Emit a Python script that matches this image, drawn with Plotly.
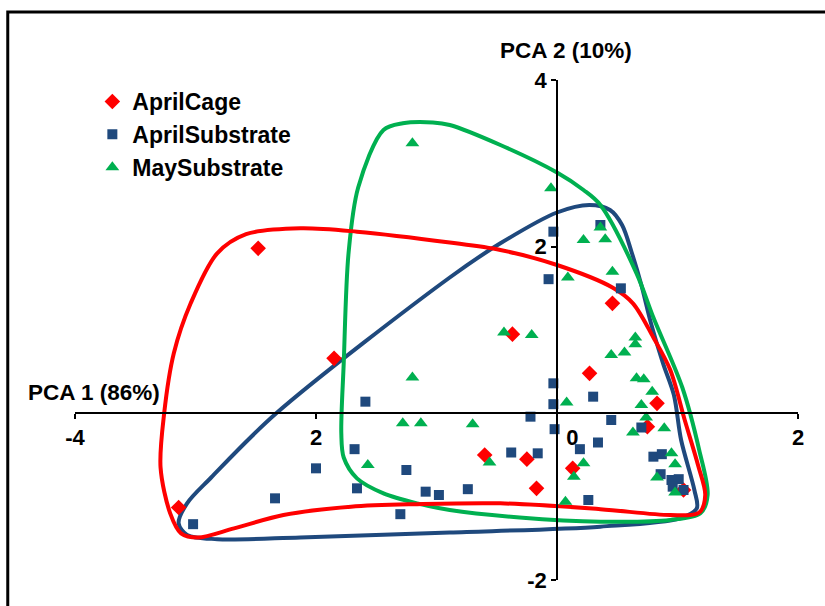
import plotly.graph_objects as go

# ---------------- data (PCA scores) ----------------
cage_x = [-2.48, -1.85, -3.14, -0.37, 0.46, 0.27, 0.83, 0.75, 1.05, -0.60, -0.25, -0.17, 0.13]
cage_y = [1.98, 0.66, -1.13, 0.95, 1.32, 0.48, 0.12, -0.16, -0.92, -0.50, -0.55, -0.90, -0.66]

asub_x = [-1.59, -3.02, -2.34, -2.00, -1.68, -1.66, -1.25, -1.09, -0.98, -1.30, -0.74, -0.38,
          -0.16, -0.03, -0.03, -0.22, -0.02, 0.30, 0.45, 0.70, 0.34, 0.19, -0.03, -0.07,
          0.36, 0.53, 0.80, 0.87, 0.86, 0.95, 1.01, 0.96, 1.05, 0.26]
asub_y = [0.14, -1.33, -1.02, -0.66, -0.43, -0.90, -0.68, -0.94, -0.98, -1.21, -0.91, -0.47,
          -0.48, 0.36, 0.11, -0.04, -0.19, 0.20, -0.08, -0.17, -0.35, -0.43, 2.18, 1.61,
          2.26, 1.50, -0.52, -0.49, -0.73, -0.80, -0.79, -0.88, -0.92, -1.04]

msub_x = [-1.20, -1.20, -1.28, -1.13, -1.57, -0.70, -0.56, -0.05, 0.22, 0.36, 0.40, 0.46,
          0.09, -0.44, -0.21, 0.65, 0.65, 0.56, 0.45, 0.66, 0.72, 0.79, 0.70, 0.74, 0.63,
          0.89, 0.08, 0.95, 0.98, 0.83, 0.98, 0.22, 0.14, 0.07]
msub_y = [3.24, 0.43, -0.12, -0.12, -0.62, -0.13, -0.59, 2.70, 2.08, 2.23, 2.09, 1.70,
          1.63, 0.97, 0.94, 0.91, 0.83, 0.73, 0.70, 0.42, 0.41, 0.26, 0.10, -0.05, -0.23,
          -0.18, 0.13, -0.48, -0.61, -0.77, -0.95, -0.60, -0.76, -1.06]

# group envelopes (smoothed outlines)
cage_hull_x = [-1.66, -0.89, -0.47, 0.00, 0.46, 0.63, 0.80, 0.94, 1.06, 1.17, 1.23, 1.18, 0.94,
               0.36, -0.47, -1.16, -1.71, -2.27, -2.68, -2.98, -3.12, -3.21, -3.29, -3.26,
               -3.18, -3.04, -2.82, -2.58, -2.13, -1.66]
cage_hull_y = [2.18, 2.05, 1.96, 1.78, 1.51, 1.32, 0.91, 0.52, -0.08, -0.62, -0.98, -1.19, -1.22,
               -1.15, -1.08, -1.09, -1.12, -1.22, -1.38, -1.49, -1.44, -1.20, -0.65, 0.00,
               0.72, 1.32, 1.92, 2.15, 2.22, 2.18]

asub_hull_x = [-0.89, -0.47, 0.00, 0.27, 0.44, 0.54, 0.62, 0.70, 0.78, 0.88, 0.97, 1.03, 1.14,
               1.16, 1.02, 0.36, -0.89, -2.13, -2.82, -3.07, -3.14, -3.07, -2.87,
               -2.33, -0.89]
asub_hull_y = [1.63, 2.04, 2.41, 2.50, 2.44, 2.26, 1.93, 1.54, 1.08, 0.60, 0.22, -0.32, -0.92,
               -1.14, -1.26, -1.36, -1.43, -1.49, -1.51, -1.46, -1.32, -1.08, -0.77,
               0.00, 1.63]

msub_hull_x = [-1.73, -1.65, -1.44, -1.28, -1.03, -0.89, -0.47, 0.00, 0.22, 0.36, 0.66,
               0.80, 1.04, 1.18, 1.25, 1.19, 0.94, 0.36, -0.31, -0.89, -1.16, -1.44, -1.66,
               -1.77, -1.79, -1.77, -1.73]
msub_hull_y = [1.92, 2.71, 3.40, 3.48, 3.49, 3.46, 3.22, 2.89, 2.68, 2.50, 1.68,
               1.15, 0.31, -0.44, -0.98, -1.20, -1.28, -1.30, -1.25, -1.16, -1.08, -0.96, -0.78,
               -0.53, -0.24, 0.60, 1.92]

x_tickvals = [-4, -2, 0, 2]
x_ticktext = ["-4", "2", "\u00a0\u00a0\u00a0\u00a0\u00a00", "2"]
y_tickvals = [-2, 2, 4]
y_ticktext = ["-2", "2", "4"]

RED = "#FF0000"
BLUE = "#1F497D"
GREEN = "#00B050"
FONT = "Liberation Sans"

fig = go.Figure()

for hx, hy, col in [(asub_hull_x, asub_hull_y, BLUE),
                    (msub_hull_x, msub_hull_y, GREEN),
                    (cage_hull_x, cage_hull_y, RED)]:
    fig.add_trace(go.Scatter(x=hx, y=hy, mode="lines",
                             line=dict(color=col, width=4, shape="spline", smoothing=0.9),
                             showlegend=False, hoverinfo="skip"))

fig.add_trace(go.Scatter(x=cage_x, y=cage_y, mode="markers", name="AprilCage",
                         legendgroup="a",
                         marker=dict(symbol="diamond", size=12, color=RED)))
fig.add_trace(go.Scatter(x=asub_x, y=asub_y, mode="markers", name="AprilSubstrate",
                         legendgroup="b",
                         marker=dict(symbol="square", size=10, color=BLUE)))
fig.add_trace(go.Scatter(x=msub_x, y=msub_y, mode="markers", name="MaySubstrate",
                         legendgroup="c",
                         marker=dict(symbol="triangle-up", size=12, color=GREEN)))

fig.update_layout(
    width=825, height=606,
    margin=dict(l=75, r=27, t=80, b=26),
    paper_bgcolor="white", plot_bgcolor="white",
    font=dict(family=FONT, size=22, color="black"),
    showlegend=True,
    legend=dict(x=0.024, y=1.0, xanchor="left", yanchor="top",
                font=dict(family=FONT, size=23, color="black", weight="bold"),
                tracegroupgap=0, bgcolor="rgba(0,0,0,0)"),
    xaxis=dict(range=[-4, 2], anchor="free", position=1/3, showgrid=False, zeroline=False,
               showline=True, linecolor="black", linewidth=1.5,
               ticks="outside", ticklen=5, tickcolor="black", tickwidth=1.5,
               tickvals=x_tickvals, ticktext=x_ticktext,
               tickfont=dict(family=FONT, size=22, color="black", weight="bold")),
    yaxis=dict(range=[-2, 4], anchor="free", position=2/3, showgrid=False, zeroline=False,
               showline=True, linecolor="black", linewidth=1.5,
               ticks="outside", ticklen=5, tickcolor="black", tickwidth=1.5,
               tickvals=y_tickvals, ticktext=y_ticktext,
               tickfont=dict(family=FONT, size=22, color="black", weight="bold")),
    shapes=[dict(type="rect", xref="paper", yref="paper",
                 x0=-0.093, x1=1.2, y0=-0.2, y1=1.136,
                 line=dict(color="black", width=3), fillcolor="rgba(0,0,0,0)", layer="below")],
    annotations=[
        dict(text="<b>PCA 1 (86%)</b>", x=-4, y=0, xref="x", yref="y", xanchor="left",
             yanchor="bottom", xshift=-49, yshift=6, showarrow=False,
             font=dict(family=FONT, size=22.5, color="black")),
        dict(text="<b>PCA 2 (10%)</b>", x=0, y=4, xref="x", yref="y", xanchor="center",
             yanchor="bottom", xshift=9, yshift=15, showarrow=False,
             font=dict(family=FONT, size=22.5, color="black")),
    ],
)

fig.write_html("out.html")
